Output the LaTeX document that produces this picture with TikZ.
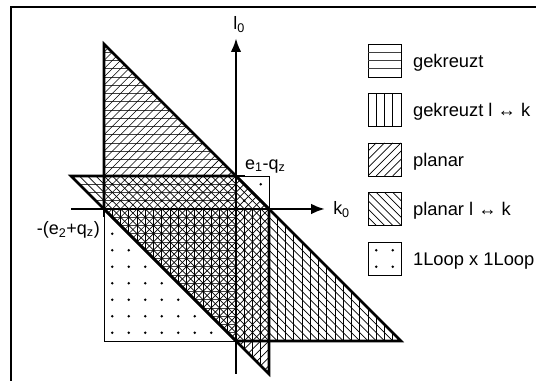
\documentclass[tikz,border=0pt]{standalone}
\usepackage{fontspec}
\setmainfont{Liberation Sans}
\usetikzlibrary{arrows.meta}
\tikzset{
  outline/.style={line width=2.3pt},
  thinedge/.style={line width=0.8pt},
  hatch/.style={line width=0.6pt},
  axis/.style={line width=2.3pt,-{Latex[length=4.2mm,width=3.2mm]}},
  legendtext/.style={anchor=base west,inner sep=0pt,font=\fontsize{15.8pt}{19pt}\selectfont},
  dotmark/.style={fill=black},
}

\begin{document}
\begin{tikzpicture}[x=1cm,y=1cm,font=\fontsize{15.5pt}{18pt}\selectfont]
        \clip (-7.152,-5.212) rectangle (9.091,6.333);
        % Frame
        \draw[line width=2pt] (-6.82,-6) rectangle (10,6.12);
        % Define points
        \coordinate (O) at (0,0);
        \coordinate (A) at (0,1);
        \coordinate (B) at (-4,0);
        \coordinate (Kl) at (-5,0);
        \coordinate (Kr) at (2.7,0);
        \coordinate (Lb) at (0,-5);
        \coordinate (Lt) at (0,5.18);
        % 1Loop x 1Loop dots
        \foreach \i in {0,...,9}
          \foreach \j in {0,...,9}
            \fill[dotmark] (-3.75+\i/2,-3.75+\j/2) circle (0.04);
        \draw[thinedge] (-4,-4) rectangle (1,1);
        % gekreuzt
        \begin{scope}
          \clip (-4,5) -- (0,1) -- (0,-4) -- (-5,1) -- (-4,1) -- cycle;
          \foreach \k in {-20,...,24}
            \draw[hatch,black!75] (-6,\k/4) -- (2,\k/4);
        \end{scope}
        % gekreuzt l <-> k
        \begin{scope}
          \clip (5,-4) -- (1,0) -- (-4,0) -- (1,-5) -- (1,-4) -- cycle;
          \foreach \k in {-20,...,24}
            \draw[hatch] (\k/4,-6) -- (\k/4,2);
        \end{scope}
        % planar
        \begin{scope}
          \clip (-4,0) -- (-4,5) -- (1,0) -- (1,-5) -- cycle;
          \foreach \k in {-40,...,28}
            \draw[hatch] (\k/4-6,-6) -- (\k/4+6,6);
        \end{scope}
        % planar l <-> k
        \begin{scope}
          \clip (0,-4) -- (5,-4) -- (0,1) -- (-5,1) -- cycle;
          \foreach \k in {-18,...,6}
            \draw[hatch] (\k/4-6,6) -- (\k/4+6,-6);
        \end{scope}
        % Region borders
        \draw[outline] (-4,0) -- (-4,5) -- (1,0) -- (1,-5) -- cycle;
        \draw[outline] (0,-4) -- (5,-4) -- (0,1) -- (-5,1) -- cycle;
        \draw[outline] (A) -- ++(0.27,0);
        \draw[outline] (B) -- ++(0,-0.25);
        %Axis
        \draw[axis] (Kl) -- (Kr);
        \draw[axis] (Lb) -- (Lt);
        \node[anchor=base west,inner sep=0pt] (l0) at (-0.09,5.45) {l\textsubscript{0}};
        \node[anchor=base west,inner sep=0pt] (k0) at (2.94,-0.18) {k\textsubscript{0}};
        \node[anchor=base west,inner sep=0pt] (e1) at (0.27,1.21) {e\textsubscript{1}-q\textsubscript{z}};
        \node[anchor=base east,inner sep=0pt] (e2) at (-4.12,-0.77) {-(e\textsubscript{2}+q\textsubscript{z})};
        % Legend
        \draw[thinedge] (4,4) rectangle (5,5);
        \foreach \k in {1,2,3}
          \draw[hatch,black!75] (4,4+\k/4) -- (5,4+\k/4);
        \node[legendtext] (lg1) at (5.36,4.29) {gekreuzt};
        \draw[thinedge] (4,2.5) rectangle (5,3.5);
        \foreach \k in {1,2,3}
          \draw[hatch] (4+\k/4,2.5) -- (4+\k/4,3.5);
        \node[legendtext] (lg2) at (5.36,2.79) {gekreuzt l ↔ k};
        \begin{scope}
          \clip (4,1) rectangle (5,2);
          \foreach \k in {-4,...,4}
            \draw[hatch] (4+\k/4,1) -- ++(1,1);
        \end{scope}
        \draw[thinedge] (4,1) rectangle (5,2);
        \node[legendtext] (lg3) at (5.36,1.29) {planar};
        \begin{scope}
          \clip (4,-0.5) rectangle (5,0.5);
          \foreach \k in {-4,...,4}
            \draw[hatch] (4+\k/4,0.5) -- ++(1,-1);
        \end{scope}
        \draw[thinedge] (4,-0.5) rectangle (5,0.5);
        \node[legendtext] (lg4) at (5.36,-0.21) {planar l ↔ k};
        \draw[thinedge] (4,-2) rectangle (5,-1);
        \foreach \i in {0,1}
          \foreach \j in {0,1}
            \fill[dotmark] (4.25+\i/2,-1.75+\j/2) circle (0.04);
        \node[legendtext] (lg5) at (5.36,-1.71) {1Loop x 1Loop};
      \end{tikzpicture}
\end{document}
